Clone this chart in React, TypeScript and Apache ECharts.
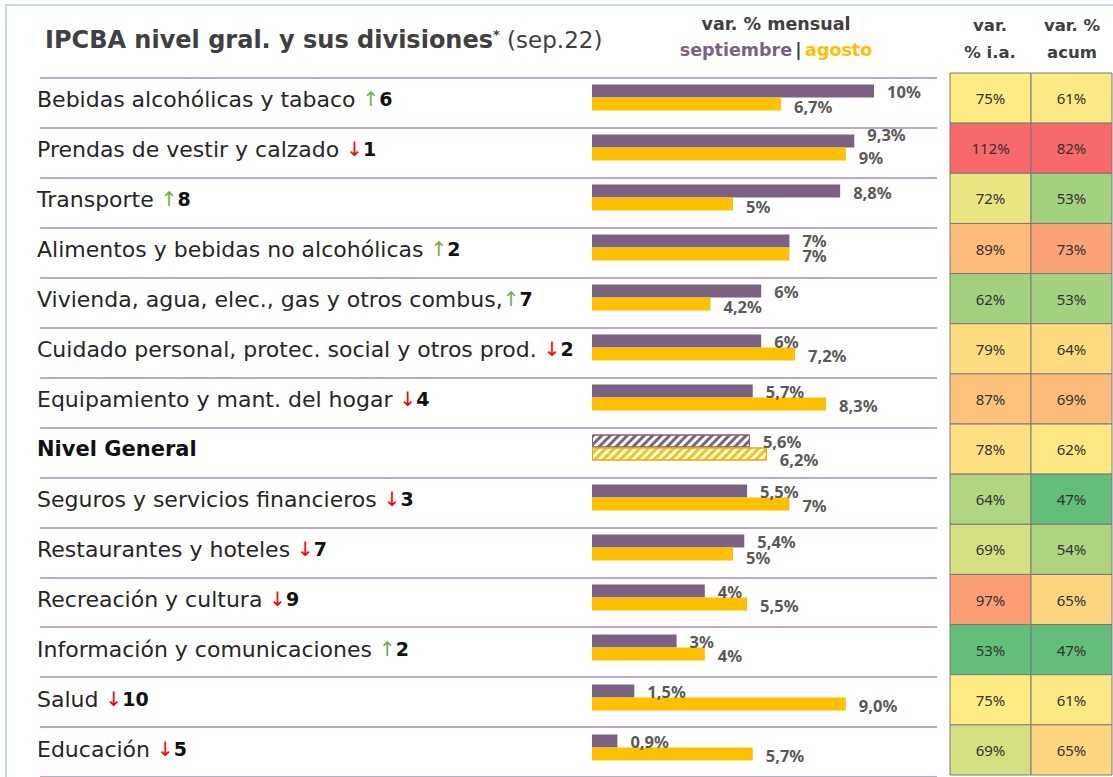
import React, { useEffect, useRef } from 'react';
import * as echarts from 'echarts';

const categories = [
  'Bebidas alcohólicas y tabaco',
  'Prendas de vestir y calzado',
  'Transporte',
  'Alimentos y bebidas no alcohólicas',
  'Vivienda, agua, elec., gas y otros combus,',
  'Cuidado personal, protec. social y otros prod.',
  'Equipamiento y mant. del hogar',
  'Nivel General',
  'Seguros y servicios financieros',
  'Restaurantes y hoteles',
  'Recreación y cultura',
  'Información y comunicaciones',
  'Salud',
  'Educación',
];
const rankArrow = ['up', 'down', 'up', 'up', 'up', 'down', 'down', '', 'down', 'down', 'down', 'up', 'down', 'down'];
const rankNumber = ['6', '1', '8', '2', '7', '2', '4', '', '3', '7', '9', '2', '10', '5'];
const septiembre = [10, 9.3, 8.8, 7, 6, 6, 5.7, 5.6, 5.5, 5.4, 4, 3, 1.5, 0.9];
const agosto = [6.7, 9, 5, 7, 4.2, 7.2, 8.3, 6.2, 7, 5, 5.5, 4, 9.0, 5.7];
const septiembreLabels = ['10%', '9,3%', '8,8%', '7%', '6%', '6%', '5,7%', '5,6%', '5,5%', '5,4%', '4%', '3%', '1,5%', '0,9%'];
const agostoLabels = ['6,7%', '9%', '5%', '7%', '4,2%', '7,2%', '8,3%', '6,2%', '7%', '5%', '5,5%', '4%', '9,0%', '5,7%'];
const varIA = [75, 112, 72, 89, 62, 79, 87, 78, 64, 69, 97, 53, 75, 69];
const varAcum = [61, 82, 53, 73, 53, 64, 69, 62, 47, 54, 65, 47, 61, 65];
const tableColumns = ['var. % i.a.', 'var. % acum'];
const highlighted = 'Nivel General';

// label nudges (styling only, pixels)
const sepLabelDy = [0, -7, 1, -1, 0, 0, 0, 0, 0, 0, 0, 0, 0, 0];
const agoLabelDy = [2, 3, 2, 1, 2, 1, 1, 5, 1, 3, 1, 1, 1, 1];

const PURPLE = '#7b6283';
const YELLOW = '#ffc000';
const DARK = '#404040';
const LABEL_FONT = 'DejaVu Sans';
const HEAD_FONT = 'DejaVu Sans';

function hexToRgb(h: string) {
  const n = parseInt(h.slice(1), 16);
  return [(n >> 16) & 255, (n >> 8) & 255, n & 255];
}
function mix(a: string, b: string, t: number) {
  const A = hexToRgb(a), B = hexToRgb(b);
  const c = A.map((v, i) => Math.round(v + (B[i] - v) * t));
  return 'rgb(' + c.join(',') + ')';
}
function median(arr: number[]) {
  const s = [...arr].sort((x, y) => x - y);
  const m = s.length / 2;
  return s.length % 2 ? s[Math.floor(m)] : (s[m - 1] + s[m]) / 2;
}
function scaleColor(arr: number[]) {
  const lo = Math.min(...arr), hi = Math.max(...arr), mid = median(arr);
  return (v: number) => {
    if (v <= mid) return mix('#63be7b', '#ffeb84', (v - lo) / (mid - lo || 1));
    return mix('#ffeb84', '#f8696b', (v - mid) / (hi - mid || 1));
  };
}

export default function App() {
  const ref = useRef<HTMLDivElement>(null);
  useEffect(() => {
    if (!ref.current) return;
    const chart = echarts.init(ref.current, null, { renderer: 'svg' });
    const genIdx = categories.indexOf(highlighted);
    const colIA = scaleColor(varIA);
    const colAc = scaleColor(varAcum);
    const cellData: number[][] = [];
    const cellColors: string[] = [];
    varIA.forEach((v, r) => { cellData.push([0, r, v]); cellColors.push(colIA(v)); });
    varAcum.forEach((v, r) => { cellData.push([1, r, v]); cellColors.push(colAc(v)); });

    const decal = (c: string) => ({
      symbol: 'rect',
      symbolSize: 1,
      dashArrayX: [1, 0],
      dashArrayY: [3, 3],
      rotation: -Math.PI / 4,
      color: c,
    });

    const barLabel = {
      show: true,
      position: 'right',
      distance: 13,
      color: '#595959',
      fontWeight: 'bold',
      fontSize: 16.5,
      fontFamily: 'Noto Sans',
    };

    const headText = (x: number, y: number, text: string, size: number) => ({
      type: 'text',
      x,
      y,
      style: { text, align: 'center', verticalAlign: 'middle', fontFamily: HEAD_FONT, fontWeight: 'bold', fontSize: size, fill: DARK },
    });

    const option: any = {
      animation: false,
      backgroundColor: '#ffffff',
      grid: [
        { left: 592, top: 72.5, width: 338.4, height: 700 },
        { left: 40, top: 78, width: 897, height: 700 },
        { left: 950, top: 73, width: 162, height: 702 },
      ],
      xAxis: [
        { type: 'value', gridIndex: 0, min: 0, max: 12, show: false },
        { type: 'value', gridIndex: 1, min: 0, max: 1, show: false },
        { type: 'category', gridIndex: 2, data: tableColumns, show: false },
      ],
      yAxis: [
        {
          type: 'category',
          gridIndex: 0,
          data: categories,
          inverse: true,
          axisLine: { show: false },
          axisTick: { show: false },
          splitLine: { show: false },
          axisLabel: {
            interval: 0,
            margin: 555,
            align: 'left',
            padding: [3, 0, 0, 0],
            formatter: (name: string) => {
              if (name === highlighted) return '{g|' + name + '}';
              const i = categories.indexOf(name);
              const sep = name.endsWith(',') ? '' : ' ';
              const arrow = rankArrow[i] === 'up' ? '{up|↑}' : '{dn|↓}';
              return '{t|' + name + sep + '}' + arrow + '{n|' + rankNumber[i] + '}';
            },
            rich: {
              t: { fontFamily: LABEL_FONT, fontSize: 22, color: '#262626' },
              g: { fontFamily: LABEL_FONT, fontSize: 21, fontWeight: 'bold', color: '#111111' },
              up: { fontFamily: 'DejaVu Sans', fontSize: 20, color: '#70ad47' },
              dn: { fontFamily: 'DejaVu Sans', fontSize: 20, color: '#ff0000' },
              n: { fontFamily: LABEL_FONT, fontSize: 19, fontWeight: 'bold', color: '#111111' },
            },
          },
        },
        {
          type: 'category',
          gridIndex: 1,
          data: categories,
          inverse: true,
          axisLine: { show: false },
          axisTick: { show: false },
          axisLabel: { show: false },
          splitLine: { show: true, interval: 0, lineStyle: { color: '#bfa9c8', width: 2 } },
        },
        {
          type: 'category',
          gridIndex: 2,
          data: categories,
          inverse: true,
          show: false,
        },
      ],
      series: [
        {
          type: 'bar',
          name: 'septiembre',
          xAxisIndex: 0,
          yAxisIndex: 0,
          barWidth: 13,
          barGap: '0%',
          itemStyle: { color: PURPLE },
          data: septiembre.map((v, i) => {
            const item: any = { value: v, label: { offset: [0, sepLabelDy[i]] } };
            if (i === genIdx) item.itemStyle = { color: '#ffffff', borderColor: PURPLE, borderWidth: 1, decal: decal(PURPLE) };
            return item;
          }),
          label: { ...barLabel, formatter: (p: any) => septiembreLabels[p.dataIndex] },
        },
        {
          type: 'bar',
          name: 'agosto',
          xAxisIndex: 0,
          yAxisIndex: 0,
          barWidth: 13,
          barGap: '0%',
          itemStyle: { color: YELLOW },
          data: agosto.map((v, i) => {
            const item: any = { value: v, label: { offset: [0, agoLabelDy[i]] } };
            if (i === genIdx) item.itemStyle = { color: '#ffffff', borderColor: '#e0aa10', borderWidth: 1, decal: decal(YELLOW) };
            return item;
          }),
          label: { ...barLabel, formatter: (p: any) => agostoLabels[p.dataIndex] },
        },
        {
          type: 'custom',
          xAxisIndex: 2,
          yAxisIndex: 2,
          data: cellData,
          encode: { x: 0, y: 1 },
          renderItem: (params: any, api: any) => {
            const c = api.coord([api.value(0), api.value(1)]);
            const s = api.size([1, 1]);
            return {
              type: 'group',
              children: [
                {
                  type: 'rect',
                  shape: { x: c[0] - s[0] / 2, y: c[1] - s[1] / 2, width: s[0], height: s[1] },
                  style: { fill: cellColors[params.dataIndex], stroke: '#7a7a7a', lineWidth: 1 },
                },
                {
                  type: 'text',
                  x: c[0],
                  y: c[1],
                  style: {
                    text: api.value(2) + '%',
                    align: 'center',
                    verticalAlign: 'middle',
                    fill: '#333333',
                    fontSize: 15,
                    fontFamily: 'Noto Sans',
                  },
                },
              ],
            };
          },
        },
      ],
      graphic: [
        {
          type: 'rect',
          z: -10,
          shape: { x: 6, y: 5, width: 1300, height: 900 },
          style: { fill: 'none', stroke: '#c6d5f1', lineWidth: 2 },
        },
        {
          type: 'text',
          x: 45,
          y: 40,
          style: {
            text: '{a|IPCBA nivel gral. y sus divisiones}{s|*}{b| (sep.22)}',
            verticalAlign: 'middle',
            rich: {
              a: { fontFamily: HEAD_FONT, fontWeight: 'bold', fontSize: 24, fill: DARK },
              s: { fontFamily: HEAD_FONT, fontWeight: 'bold', fontSize: 13, fill: DARK, padding: [0, 0, 11, 0] },
              b: { fontFamily: HEAD_FONT, fontSize: 23, fill: DARK },
            },
          },
        },
        headText(776, 24, 'var. % mensual', 17.5),
        {
          type: 'text',
          x: 776,
          y: 50,
          style: {
            text: '{p|septiembre} {d||} {y|agosto}',
            align: 'center',
            verticalAlign: 'middle',
            rich: {
              p: { fontFamily: HEAD_FONT, fontWeight: 'bold', fontSize: 17.5, fill: PURPLE },
              d: { fontFamily: HEAD_FONT, fontWeight: 'bold', fontSize: 17.5, fill: DARK },
              y: { fontFamily: HEAD_FONT, fontWeight: 'bold', fontSize: 17.5, fill: YELLOW },
            },
          },
        },
        headText(990, 25, 'var.', 16.5),
        headText(990, 52, '% i.a.', 16.5),
        headText(1072, 25, 'var. %', 16.5),
        headText(1072, 52, 'acum', 16.5),
      ],
    };
    chart.setOption(option);
    return () => chart.dispose();
  }, []);
  return (
    <div
      ref={ref}
      style={{ position: 'absolute', left: 0, top: 0, width: 1113, height: 777, background: '#fff' }}
    />
  );
}
